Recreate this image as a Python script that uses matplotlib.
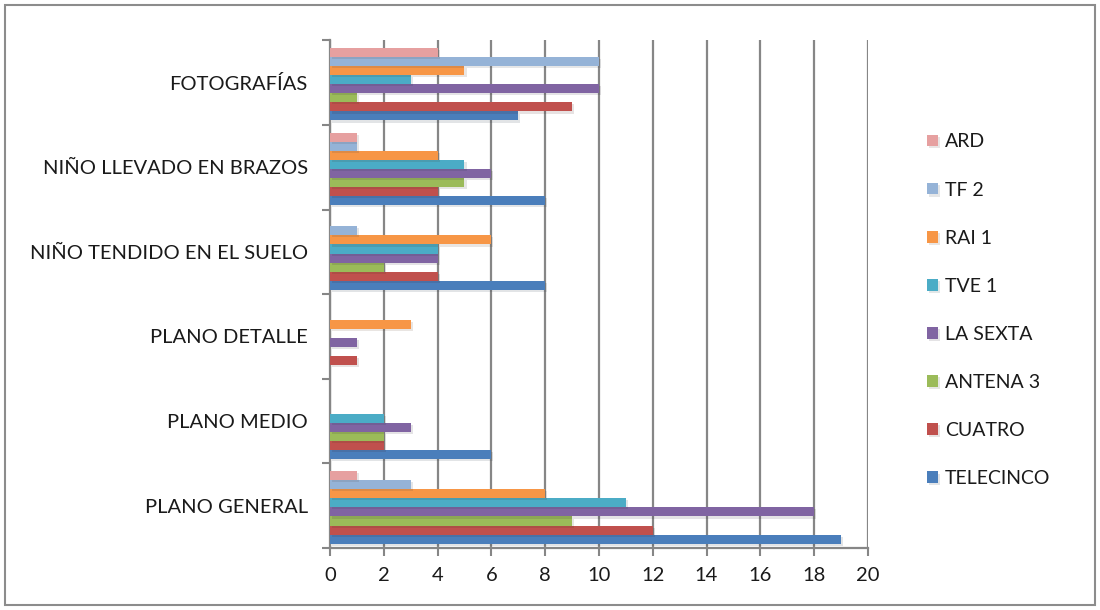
import matplotlib.pyplot as plt
import matplotlib.patheffects as pe
from matplotlib.patches import Rectangle
import numpy as np

plt.rcParams['font.family'] = ['Lato', 'DejaVu Sans']

# datos
categorias = ['PLANO GENERAL', 'PLANO MEDIO', 'PLANO DETALLE',
              'NIÑO TENDIDO EN EL SUELO', 'NIÑO LLEVADO EN BRAZOS', 'FOTOGRAFÍAS']
cadenas = ['TELECINCO', 'CUATRO', 'ANTENA 3', 'LA SEXTA', 'TVE 1', 'RAI 1', 'TF 2', 'ARD']

telecinco = [19, 6, 0, 8, 8, 7]
cuatro = [12, 2, 1, 4, 4, 9]
antena3 = [9, 2, 0, 2, 5, 1]
lasexta = [18, 3, 1, 4, 6, 10]
tve1 = [11, 2, 0, 4, 5, 3]
rai1 = [8, 0, 3, 6, 4, 5]
tf2 = [3, 0, 0, 1, 1, 10]
ard = [1, 0, 0, 0, 1, 4]
series = [telecinco, cuatro, antena3, lasexta, tve1, rai1, tf2, ard]

colores = ['#4A7EBB', '#C0504D', '#9BBB59', '#8064A2',
           '#4BACC6', '#F79646', '#95B3D7', '#E6A0A0']

fig = plt.figure(figsize=(11, 6.1), dpi=100)
ax = fig.add_axes([0.3, 0.1016, 0.489, 0.8324])

y = np.arange(len(categorias))
h = 0.107
sombra = [pe.SimplePatchShadow(offset=(1.5, -1.5), alpha=0.12), pe.Normal()]
barras = []
for i, (vals, col) in enumerate(zip(series, colores)):
    b = ax.barh(y + (i - 3.5) * h - 0.02, vals, height=h, color=col,
                label=cadenas[i], zorder=3)
    for p in b.patches:
        if p.get_width() > 0:
            p.set_path_effects(sombra)
    barras.append(b)

ax.set_xlim(0, 20)
ax.set_ylim(-0.5, len(categorias) - 0.5)
ax.set_xticks(range(0, 21, 2))
ax.set_yticks(y)
ax.set_yticklabels(categorias)
ax.set_yticks(np.arange(-0.5, len(categorias)), minor=True)
ax.tick_params(axis='y', which='major', length=0, pad=16, labelsize=14.5, labelcolor='#1a1a1a')
ax.tick_params(axis='y', which='minor', length=6, width=1.5, color='#868686', direction='out')
ax.tick_params(axis='x', length=6, width=1.5, color='#868686', labelsize=14.5,
               labelcolor='#1a1a1a', pad=8)

ax.grid(axis='x', color='#868686', linewidth=1.6, zorder=0)
ax.set_axisbelow(True)
for s in ['top', 'right']:
    ax.spines[s].set_visible(False)
for s in ['left', 'bottom']:
    ax.spines[s].set_color('#868686')
    ax.spines[s].set_linewidth(1.6)

handles = barras[::-1]
leg = fig.legend(handles, cadenas[::-1], loc='upper left',
                 bbox_to_anchor=(0.827, 0.81), frameon=False, fontsize=14,
                 labelspacing=1.6, handlelength=0.55, handleheight=0.55,
                 handletextpad=0.35, labelcolor='#1a1a1a')

# marco
fig.patches.append(Rectangle((5 / 1100, 5 / 610), 1090 / 1100, 600 / 610,
                             transform=fig.transFigure, fill=False,
                             edgecolor='#8c8c8c', linewidth=1.5))

fig.savefig('out.png', dpi=100)
